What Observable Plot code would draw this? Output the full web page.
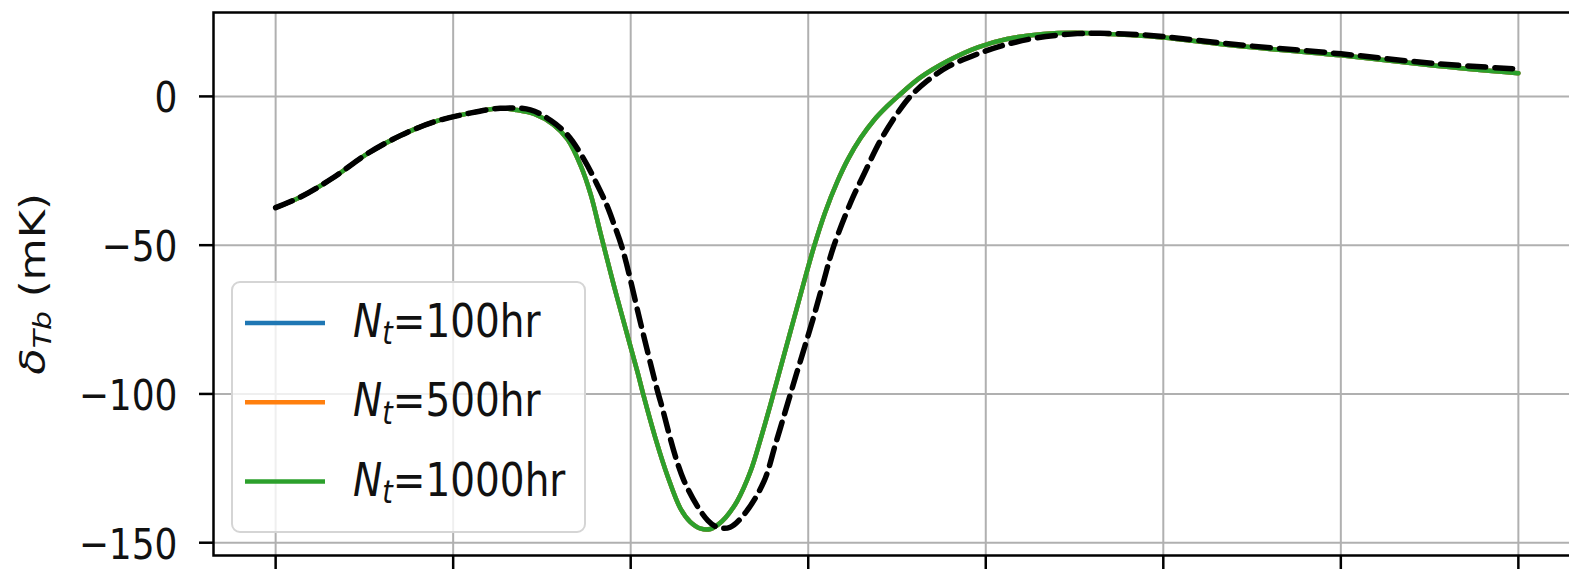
<!DOCTYPE html>
<html>
<head>
<meta charset="utf-8">
<script src="https://cdn.jsdelivr.net/npm/d3@7"></script>
<script src="https://cdn.jsdelivr.net/npm/@observablehq/plot@0.6"></script>
<style>
  html, body { margin: 0; padding: 0; background: #fff; overflow: hidden; }
  #chart svg { display: block; }
</style>
</head>
<body>
<div id="chart"></div>
<script>
// Frequency grid (MHz) and brightness temperature (mK) of the recovered signals
const recoveredFreq = [40.0, 42.8, 46.6, 50.3, 54.1, 57.8, 61.6, 65.3, 67.2, 69.2, 71.3, 72.9, 74.4, 75.5, 76.6, 78.1, 79.6, 80.8, 81.4, 82.8, 84.2, 85.6, 86.7, 87.9, 89.0, 89.8, 90.7, 92.0, 93.5, 94.6, 95.8, 96.9, 98.0, 99.1, 100.6, 101.9, 103.3, 104.5, 105.9, 107.4, 108.9, 110.1, 112.6, 115.7, 119.1, 122.4, 126.5, 130.1, 132.9, 136.3, 140.0, 147.9, 160.0, 170.4, 180.0];
const tb100hr  = [-37.4, -33.8, -27.1, -19.3, -13.1, -8.6, -5.8, -4.0, -4.6, -6.0, -9.5, -14.5, -23.5, -33.0, -46.0, -63.5, -80.0, -93.0, -100.0, -115.0, -128.0, -138.5, -143.0, -145.3, -145.4, -144.0, -141.5, -136.0, -126.0, -115.5, -103.0, -91.0, -79.0, -67.0, -51.0, -39.0, -28.5, -21.0, -14.0, -8.0, -3.3, 0.0, 6.3, 11.9, 16.5, 19.3, 21.0, 21.4, 21.1, 20.6, 19.8, 17.1, 13.8, 10.4, 7.8];
const tb500hr  = [-37.4, -33.8, -27.1, -19.3, -13.1, -8.6, -5.8, -4.0, -4.6, -6.0, -9.5, -14.5, -23.5, -33.0, -46.0, -63.5, -80.0, -93.0, -100.0, -115.0, -128.0, -138.5, -143.0, -145.3, -145.4, -144.0, -141.5, -136.0, -126.0, -115.5, -103.0, -91.0, -79.0, -67.0, -51.0, -39.0, -28.5, -21.0, -14.0, -8.0, -3.3, 0.0, 6.3, 11.9, 16.5, 19.3, 21.0, 21.4, 21.1, 20.6, 19.8, 17.1, 13.8, 10.4, 7.8];
const tb1000hr = [-37.4, -33.8, -27.1, -19.3, -13.1, -8.6, -5.8, -4.0, -4.6, -6.0, -9.5, -14.5, -23.5, -33.0, -46.0, -63.5, -80.0, -93.0, -100.0, -115.0, -128.0, -138.5, -143.0, -145.3, -145.4, -144.0, -141.5, -136.0, -126.0, -115.5, -103.0, -91.0, -79.0, -67.0, -51.0, -39.0, -28.5, -21.0, -14.0, -8.0, -3.3, 0.0, 6.3, 11.9, 16.5, 19.3, 21.0, 21.4, 21.1, 20.6, 19.8, 17.1, 13.8, 10.4, 7.8];

// Input (true) signal
const trueFreq = [40.0, 42.8, 46.6, 50.3, 54.1, 57.8, 61.6, 65.3, 68.7, 71.0, 72.9, 74.7, 76.2, 77.3, 78.0, 79.1, 81.1, 82.8, 83.4, 86.0, 88.7, 89.8, 91.2, 92.9, 95.0, 96.3, 97.7, 98.6, 100.6, 101.7, 102.8, 104.8, 106.3, 108.1, 110.2, 111.5, 113.4, 115.7, 119.1, 122.4, 125.8, 130.3, 132.9, 136.3, 140.0, 147.9, 160.0, 170.4, 180.0];
const trueTb   = [-37.4, -33.8, -27.1, -19.3, -13.1, -8.6, -5.8, -4.0, -4.5, -8.1, -13.0, -21.0, -29.5, -36.5, -42.0, -51.5, -76.0, -96.5, -103.0, -129.1, -142.6, -144.8, -144.8, -140.0, -129.5, -117.0, -103.0, -94.0, -74.2, -62.5, -51.0, -35.5, -26.0, -15.0, -5.0, 0.0, 5.2, 9.9, 14.3, 17.5, 19.7, 21.1, 21.2, 20.9, 20.1, 17.5, 14.3, 11.1, 9.2];

const seriesNames = ["100hr", "500hr", "1000hr"];
const seriesColors = ["#1f77b4", "#ff7f0e", "#2ca02c"];
const xTicks = [40, 60, 80, 100, 120, 140, 160, 180];
const yTicks = [-150, -100, -50, 0];

const toRows = (xs, ys, series) => xs.map((x, i) => ({x, y: ys[i], series}));
const recovered = [
  ...toRows(recoveredFreq, tb100hr, seriesNames[0]),
  ...toRows(recoveredFreq, tb500hr, seriesNames[1]),
  ...toRows(recoveredFreq, tb1000hr, seriesNames[2])
];
const truth = toRows(trueFreq, trueTb, "true");

const minus = d => d < 0 ? "\u2212" + Math.abs(d) : String(d);
const FONT = "'DejaVu Sans', sans-serif";

const svg = Plot.plot({
  width: 1569,
  height: 569,
  marginLeft: 213,
  marginRight: -11,
  marginTop: 12,
  marginBottom: 14,
  style: {fontFamily: FONT, background: "#fff", color: "#000"},
  x: {domain: [33, 187], axis: null},
  y: {domain: [-154.3, 28.2], axis: null},
  color: {domain: seriesNames, range: seriesColors},
  marks: [
    Plot.gridX(xTicks, {stroke: "#b0b0b0", strokeOpacity: 1, strokeWidth: 2}),
    Plot.gridY(yTicks, {stroke: "#b0b0b0", strokeOpacity: 1, strokeWidth: 2}),
    Plot.line(recovered, {x: "x", y: "y", z: "series", stroke: "series", strokeWidth: 4.5, curve: "catmull-rom"}),
    Plot.line(truth, {x: "x", y: "y", stroke: "black", strokeWidth: 5.5, strokeDasharray: "18,9", curve: "catmull-rom"}),
    Plot.frame({stroke: "black", strokeWidth: 2.5}),
    Plot.axisY(yTicks, {tickSize: 14, tickPadding: 22, tickFormat: minus, label: null, stroke: "black", strokeWidth: 2.5, fill: "#111", fontSize: 36}),
    Plot.axisX(xTicks, {tickSize: 14, tickFormat: () => "", label: null, stroke: "black", strokeWidth: 2.5})
  ]
});

document.getElementById("chart").appendChild(svg);

// Tick labels: taller glyphs, as in the figure's aspect
d3.select(svg).selectAll('g[aria-label="y-axis tick label"] text').each(function() {
  const t = this.getAttribute("transform") || "";
  this.setAttribute("transform", t + " scale(1,1.2)");
  this.setAttribute("y", "0.37em");
});

const root = d3.select(svg);

// y-axis title: δ_Tb (mK)
const ylab = root.append("text")
  .attr("transform", "translate(45,284) rotate(-90) scale(1.2,1)")
  .attr("text-anchor", "middle")
  .attr("font-family", FONT)
  .attr("font-size", 36)
  .attr("fill", "#111");
ylab.append("tspan").attr("font-style", "italic").text("\u03b4");
ylab.append("tspan").attr("font-style", "italic").attr("font-size", 25).attr("dy", 6).text("Tb");
ylab.append("tspan").attr("dy", -6).text(" (mK)");

// Legend box
const lg = root.append("g").attr("font-family", FONT).attr("fill", "#111").attr("text-anchor", "start");
lg.append("rect")
  .attr("x", 232).attr("y", 282).attr("width", 353).attr("height", 250).attr("rx", 8)
  .attr("fill", "white").attr("fill-opacity", 0.8)
  .attr("stroke", "#d5d5d5").attr("stroke-width", 2);
seriesNames.forEach((name, i) => {
  const cy = 323 + i * 79.3;
  lg.append("line")
    .attr("x1", 245).attr("x2", 325).attr("y1", cy).attr("y2", cy)
    .attr("stroke", seriesColors[i]).attr("stroke-width", 4.5);
  const t = lg.append("text")
    .attr("text-anchor", "start")
    .attr("transform", `translate(353,${cy + 14}) scale(1,1.2)`)
    .attr("font-size", 39);
  t.append("tspan").attr("font-style", "italic").text("N");
  t.append("tspan").attr("font-style", "italic").attr("font-size", 27).attr("dy", 6).text("t");
  t.append("tspan").attr("dy", -6).text("=" + name);
});
</script>
</body>
</html>
